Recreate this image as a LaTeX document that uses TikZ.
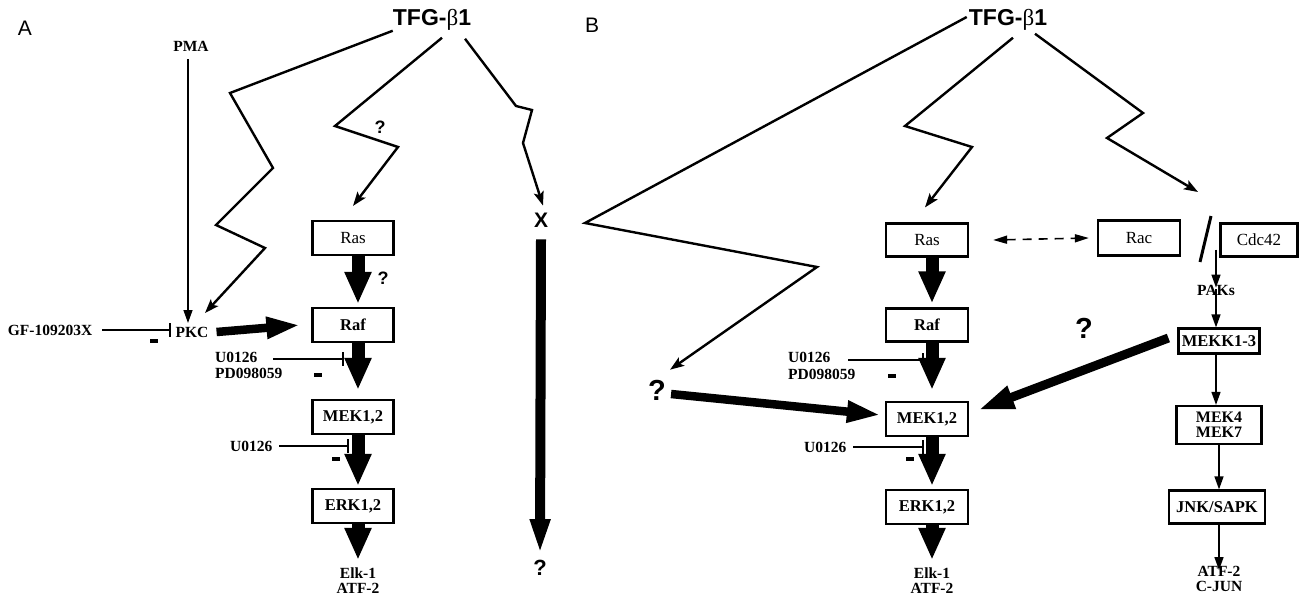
\documentclass[tikz,border=0pt]{standalone}
\usepackage{fontspec}
\setmainfont{Liberation Serif}
\newfontfamily\hv{Liberation Sans}
\usetikzlibrary{arrows.meta,calc}
\tikzset{
  every node/.style={inner sep=0pt},
  lbl/.style={font=\bfseries\fontsize{15.5}{15.5}\selectfont},
  blbl/.style={font=\bfseries\fontsize{16.5}{16.5}\selectfont},
  boxtxt/.style={font=\fontsize{17}{17}\selectfont},
  box/.style={draw, line width=2.2pt, minimum width=81pt, minimum height=34pt},
  tfg/.style={font=\hv\bfseries\fontsize{23}{23}\selectfont},
  qm/.style={font=\hv\bfseries\fontsize{18}{18}\selectfont},
  qmbig/.style={font=\hv\bfseries\fontsize{29}{29}\selectfont},
  panel/.style={font=\hv\fontsize{21}{21}\selectfont},
  minus/.style={fill=black, minimum width=8pt, minimum height=4pt},
  zz/.style={line width=2.4pt, line join=miter, -{Stealth[length=14pt,width=10pt,inset=3pt]}},
  thinarr/.style={line width=1.4pt, -{Triangle[length=13pt,width=9pt]}},
  fatv/.style={line width=13pt, -{Triangle[length=32pt,width=25pt]}},
  fath/.style={line width=8.5pt, -{Triangle[length=34pt,width=20pt]}},
  inh/.style={line width=2pt, -{Bar[width=14pt,line width=2.5pt]}},
}
\begin{document}
\begin{tikzpicture}[x=1pt,y=-1pt]
\useasboundingbox (0,0) rectangle (1299,600);

% ===== Panel A =====
\node[panel] (lblA) at (25,28) {A};
\node[tfg] (TFGA) at (432,20) {TFG-{\rmfamily\mdseries β}1};
\node[lbl] (PMA) at (191,46) {PMA};
\node[lbl] (PKC) at (192,332) {PKC};
\node[lbl] (GF) at (50,330) {GF-109203X};
\node[box,boxtxt] (RasA) at (353,238) {Ras};
\node[box,blbl] (RafA) at (353,325) {Raf};
\node[box,blbl] (MEKA) at (353,417) {MEK1,2};
\node[box,blbl] (ERKA) at (353,506) {ERK1,2};
\node[align=center,font=\bfseries\fontsize{15.5}{15}\selectfont] (ElkA) at (358,581) {Elk-1\\ATF-2};
\node[font=\hv\bfseries\fontsize{21}{21}\selectfont] (XA) at (541,220) {X};
\node[font=\hv\bfseries\fontsize{22}{22}\selectfont] (QXA) at (540,568) {?};
\node[qm] (QrasA) at (380,127) {?};
\node[qm] (QrafA) at (383,278) {?};
\node[lbl,anchor=west] (uA1) at (215,357) {U0126};
\node[lbl,anchor=west] (pdA) at (215,373) {PD098059};
\node[lbl,anchor=west] (uA2) at (230,446) {U0126};
\node[minus] (mA0) at (154,341) {};
\node[minus] (mA1) at (318,375) {};
\node[minus] (mA2) at (336,459) {};
\coordinate (barA1) at (344,359);
\coordinate (barA2) at (349,446);
\coordinate (barGF) at (171,330);
\coordinate (sA1) at (273,359);
\coordinate (sA2) at (279,446);
\coordinate (sGF) at (102,330);

\draw[thinarr] ([yshift=-8pt]PMA.south -| 188,0) -- (188,323);
\draw[zz] (TFGA.south west) -- (230,93) -- (273,168) -- (216,225) -- (265,248) -- (205,313);
\draw[zz] ($(TFGA.south)+(10,7)$) -- (335,126) -- (398,147) -- ($(RasA.north)+(0,-14)$);
\draw[zz] ($(TFGA.south)+(33,8)$) -- (516,106) -- (532,110) -- (523,143) -- ($(XA.north)+(2,-7)$);
\draw[inh] (sGF) -- (barGF);
\draw[fath] ([xshift=8pt]PKC.east) -- ([xshift=-11pt]RafA.west);
\draw[fatv] ([xshift=5pt]RasA.south) -- ([xshift=5pt,yshift=3pt]RafA.north);
\draw[fatv] ([xshift=5pt]RafA.south) -- ([xshift=5pt,yshift=9pt]MEKA.north);
\draw[fatv] ([xshift=5pt]MEKA.south) -- ([xshift=5pt,yshift=2pt]ERKA.north);
\draw[fatv] ([xshift=5pt]ERKA.south) -- ([yshift=8pt]ElkA.north);
\draw[inh] (sA1) -- (barA1);
\draw[inh] (sA2) -- (barA2);
\draw[line width=10pt, -{Triangle[length=36pt,width=18pt]}] ([yshift=-12pt]XA.south) -- ([yshift=5pt]QXA.north);

% ===== Panel B =====
\node[panel] (lblB) at (592,25) {B};
\node[tfg] (TFGB) at (1008,20) {TFG-{\rmfamily\mdseries β}1};
\node[box,boxtxt,minimum width=82pt,minimum height=33pt] (RasB) at (927,240) {Ras};
\node[box,blbl,minimum width=82pt,minimum height=33pt] (RafB) at (927,325) {Raf};
\node[box,blbl,minimum width=82pt,minimum height=34pt] (MEKB) at (927,419) {MEK1,2};
\node[box,blbl,minimum width=82pt,minimum height=34pt] (ERKB) at (927,507) {ERK1,2};
\node[align=center,font=\bfseries\fontsize{15.5}{15}\selectfont] (ElkB) at (932,581) {Elk-1\\ATF-2};
\node[box,boxtxt,minimum width=82pt,minimum height=35pt] (RacB) at (1139,238) {Rac};
\node[box,boxtxt,minimum width=77pt,minimum height=33pt] (Cdc) at (1259,240) {Cdc42};
\node[lbl] (PAKs) at (1216,290) {PAKs};
\node[box,blbl,minimum width=81pt,minimum height=25pt] (MEKK) at (1219,341) {MEKK1-3};
\node[box,minimum width=85pt,minimum height=38pt,align=left,font=\bfseries\fontsize{16}{15}\selectfont] (MEK47) at (1219,425) {MEK4\\MEK7};
\node[box,blbl,minimum width=96pt,minimum height=33pt] (JNK) at (1217,507) {JNK/SAPK};
\node[align=center,font=\bfseries\fontsize{15.5}{15}\selectfont] (ATF) at (1219,579) {ATF-2\\C-JUN};
\node[qmbig] (QB) at (657,390) {?};
\node[qmbig] (QMEKK) at (1084,328) {?};
\node[lbl,anchor=west] (uB1) at (788,357) {U0126};
\node[lbl,anchor=west] (pdB) at (788,374) {PD098059};
\node[lbl,anchor=west] (uB2) at (804,447) {U0126};
\node[minus] (mB1) at (892,376) {};
\node[minus] (mB2) at (910,459) {};
\coordinate (barB1) at (924,360);
\coordinate (barB2) at (924,447);
\coordinate (sB1) at (848,360);
\coordinate (sB2) at (853,447);
\coordinate (slashTop) at (1211,216);
\coordinate (slashBot) at (1200,262);

\draw[zz] ($(TFGB.west)+(-2,-3)$) -- (585,223) -- (817,267) -- ($(QB.north east)+(4,-10)$);
\draw[zz] ($(TFGB.south)+(5,7)$) -- (905,126) -- (972,147) -- ($(RasB.north)+(-2,-15)$);
\draw[zz] ($(TFGB.south)+(27,3)$) -- (1143,113) -- (1107,138) -- (1198,192);
\draw[line width=1.6pt, dash pattern=on 9pt off 7pt, {Triangle[length=14pt,width=8pt]}-{Triangle[length=14pt,width=8pt]}] ([xshift=24pt]RasB.east) -- ([xshift=-8pt]RacB.west);
\draw[line width=3pt] (slashBot) -- (slashTop);
\draw[thinarr] ([xshift=-43pt,yshift=8pt]Cdc.south) -- ([yshift=-3pt]PAKs.north);
\draw[thinarr] ([yshift=6pt]PAKs.south) -- ([xshift=-3pt]MEKK.north);
\draw[thinarr] ([xshift=-3pt]MEKK.south) -- ([xshift=-3pt]MEK47.north);
\draw[thinarr] (MEK47.south) -- ([xshift=2pt]JNK.north);
\draw[thinarr] ([xshift=2pt]JNK.south) -- ([yshift=-4pt]ATF.north);
\draw[fatv] ([xshift=5pt]RasB.south) -- ([xshift=5pt,yshift=4pt]RafB.north);
\draw[fatv] ([xshift=5pt]RafB.south) -- ([xshift=5pt,yshift=11pt]MEKB.north);
\draw[fatv] ([xshift=5pt]MEKB.south) -- ([xshift=5pt,yshift=3pt]ERKB.north);
\draw[fatv] ([xshift=5pt]ERKB.south) -- ([yshift=8pt]ElkB.north);
\draw[inh] (sB1) -- (barB1);
\draw[inh] (sB2) -- (barB2);
\draw[fath] ($(QB.east)+(5,4)$) -- ($(MEKB.west)+(-4,-4)$);
\draw[line width=9pt, -{Triangle[length=36pt,width=22pt]}] ($(MEKK.west)+(-9,-3)$) -- ($(MEKB.east)+(9,-9)$);
\end{tikzpicture}
\end{document}
